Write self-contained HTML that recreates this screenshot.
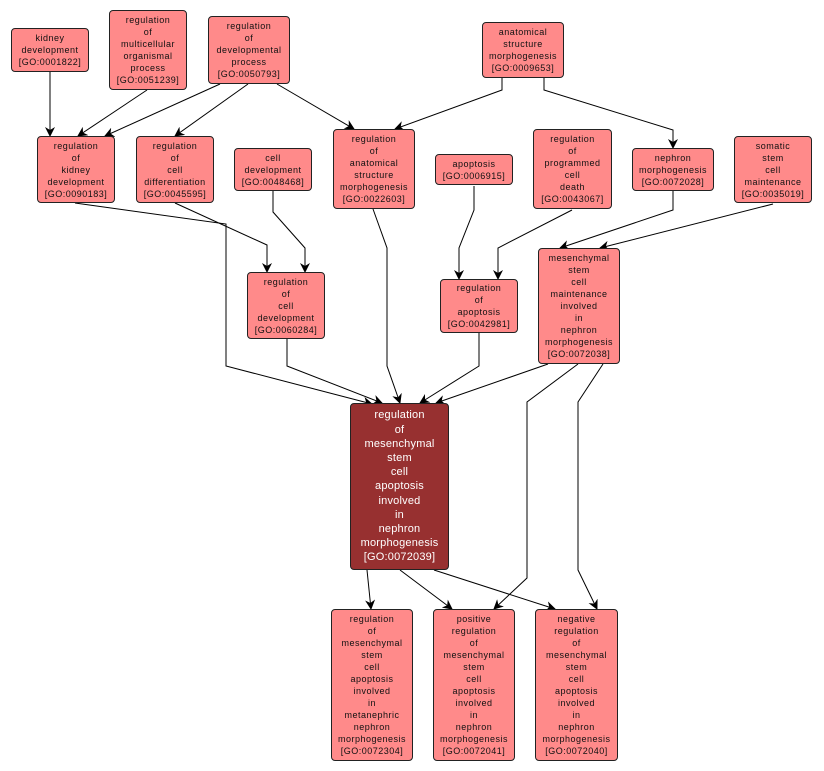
<!DOCTYPE html>
<html><head><meta charset="utf-8"><style>
body{margin:0;background:#fff;width:824px;height:771px;position:relative;overflow:hidden;font-family:"Liberation Sans",sans-serif}
.n{position:absolute;box-sizing:border-box;background:#ff8a8a;border:1px solid #222;border-radius:4px;display:flex;align-items:center;justify-content:center;text-align:center;font-size:9px;line-height:12px;letter-spacing:0.5px;color:#111}
.m{background:#973030;color:#fff;font-size:11px;line-height:14.2px;letter-spacing:0.2px}
svg{position:absolute;left:0;top:0}
</style></head><body>
<svg width="824" height="771"><defs><marker id="a" markerWidth="10" markerHeight="10" refX="9" refY="5" orient="auto" markerUnits="userSpaceOnUse"><path d="M0,0 L10,5 L0,10 L3,5 z" fill="#000"/></marker></defs>
<g fill="none" stroke="#000" stroke-width="1" marker-end="url(#a)">
<polyline points="50,72 50,136"/>
<polyline points="147,90 78,136"/>
<polyline points="220,84 105,136"/>
<polyline points="248,84 175,136"/>
<polyline points="277,84 354,129"/>
<polyline points="502,78 502,90 395,129"/>
<polyline points="544,78 544,90 673,130 673,148"/>
<polyline points="75,203 226,224 226,366 372,404"/>
<polyline points="175,203 267,245 267,272"/>
<polyline points="273,191 273,212 305,248 305,272"/>
<polyline points="373,209 387,248 387,366 400,403"/>
<polyline points="474,186 474,210 459,248 459,279"/>
<polyline points="572,210 498,248 498,279"/>
<polyline points="673,191 673,210 560,248"/>
<polyline points="773,204 600,248"/>
<polyline points="287,339 287,366 382,403"/>
<polyline points="479,333 479,366 420,403"/>
<polyline points="548,364 436,403"/>
<polyline points="578,364 527,402 527,578 494,609"/>
<polyline points="603,364 578,402 578,570 597,609"/>
<polyline points="367,570 371,609"/>
<polyline points="400,570 452,609"/>
<polyline points="434,570 555,609"/>
</g></svg>
<div class="n" style="left:11px;top:28px;width:78px;height:44px">kidney<br>development<br>[GO:0001822]</div>
<div class="n" style="left:109px;top:10px;width:78px;height:80px">regulation<br>of<br>multicellular<br>organismal<br>process<br>[GO:0051239]</div>
<div class="n" style="left:208px;top:16px;width:82px;height:68px">regulation<br>of<br>developmental<br>process<br>[GO:0050793]</div>
<div class="n" style="left:482px;top:22px;width:82px;height:56px">anatomical<br>structure<br>morphogenesis<br>[GO:0009653]</div>
<div class="n" style="left:37px;top:136px;width:78px;height:67px">regulation<br>of<br>kidney<br>development<br>[GO:0090183]</div>
<div class="n" style="left:136px;top:136px;width:78px;height:67px">regulation<br>of<br>cell<br>differentiation<br>[GO:0045595]</div>
<div class="n" style="left:234px;top:148px;width:78px;height:43px">cell<br>development<br>[GO:0048468]</div>
<div class="n" style="left:333px;top:129px;width:82px;height:80px">regulation<br>of<br>anatomical<br>structure<br>morphogenesis<br>[GO:0022603]</div>
<div class="n" style="left:435px;top:154px;width:78px;height:31px">apoptosis<br>[GO:0006915]</div>
<div class="n" style="left:533px;top:129px;width:79px;height:80px">regulation<br>of<br>programmed<br>cell<br>death<br>[GO:0043067]</div>
<div class="n" style="left:632px;top:148px;width:82px;height:43px">nephron<br>morphogenesis<br>[GO:0072028]</div>
<div class="n" style="left:734px;top:136px;width:78px;height:67px">somatic<br>stem<br>cell<br>maintenance<br>[GO:0035019]</div>
<div class="n" style="left:247px;top:272px;width:78px;height:67px">regulation<br>of<br>cell<br>development<br>[GO:0060284]</div>
<div class="n" style="left:440px;top:279px;width:78px;height:54px">regulation<br>of<br>apoptosis<br>[GO:0042981]</div>
<div class="n" style="left:538px;top:248px;width:82px;height:116px">mesenchymal<br>stem<br>cell<br>maintenance<br>involved<br>in<br>nephron<br>morphogenesis<br>[GO:0072038]</div>
<div class="n m" style="left:350px;top:403px;width:99px;height:167px">regulation<br>of<br>mesenchymal<br>stem<br>cell<br>apoptosis<br>involved<br>in<br>nephron<br>morphogenesis<br>[GO:0072039]</div>
<div class="n" style="left:331px;top:609px;width:82px;height:152px">regulation<br>of<br>mesenchymal<br>stem<br>cell<br>apoptosis<br>involved<br>in<br>metanephric<br>nephron<br>morphogenesis<br>[GO:0072304]</div>
<div class="n" style="left:433px;top:609px;width:82px;height:152px">positive<br>regulation<br>of<br>mesenchymal<br>stem<br>cell<br>apoptosis<br>involved<br>in<br>nephron<br>morphogenesis<br>[GO:0072041]</div>
<div class="n" style="left:535px;top:609px;width:83px;height:152px">negative<br>regulation<br>of<br>mesenchymal<br>stem<br>cell<br>apoptosis<br>involved<br>in<br>nephron<br>morphogenesis<br>[GO:0072040]</div>
</body></html>
